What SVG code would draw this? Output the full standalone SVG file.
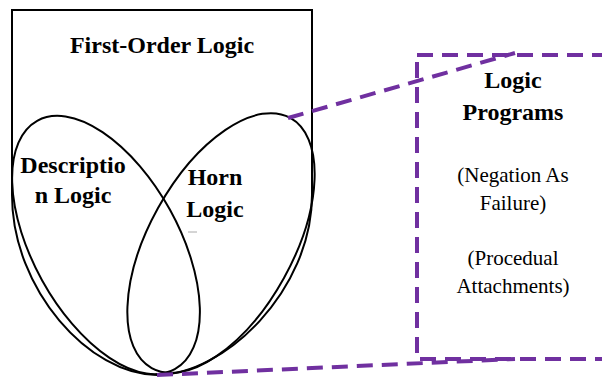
<svg xmlns="http://www.w3.org/2000/svg" width="602" height="377" viewBox="0 0 602 377">
<style>
.ln{fill:none;stroke:#000;stroke-width:2}
.dash{fill:none;stroke:#7030A0;stroke-width:4;stroke-dasharray:16 9}
.b{font-family:"Liberation Serif","Times New Roman",serif;font-weight:bold;font-size:24px;fill:#000;text-anchor:middle}
.r{font-family:"Liberation Serif","Times New Roman",serif;font-size:21px;fill:#000;text-anchor:middle}
</style>
<rect width="602" height="377" fill="#fff"/>
<g id="fol">
<path class="ln" d="M12,195 V10 H312 V195 C312,290 225,375 157,375 C90,375 12,290 12,195 Z"/>
<text class="b" x="162" y="53">First-Order Logic</text>
</g>
<g id="description-logic">
<ellipse class="ln" cx="106" cy="245" rx="73" ry="142" transform="rotate(-29 106 245)"/>
<text class="b" x="73" y="173">Descriptio</text>
<text class="b" x="73" y="203">n Logic</text>
</g>
<g id="horn-logic">
<ellipse class="ln" cx="221" cy="243" rx="72" ry="143" transform="rotate(29 221 243)"/>
<text class="b" x="215" y="185">Horn</text>
<text class="b" x="215" y="217">Logic</text>
<line x1="188" y1="232" x2="197" y2="232" stroke="#aaa" stroke-width="1"/>
</g>
<g id="logic-programs">
<rect class="dash" x="417" y="55" width="220" height="304"/>
<text class="b" x="513" y="88">Logic</text>
<text class="b" x="513" y="120">Programs</text>
<text class="r" x="513" y="182">(Negation As</text>
<text class="r" x="513" y="210">Failure)</text>
<text class="r" x="513" y="265">(Procedual</text>
<text class="r" x="513" y="293">Attachments)</text>
</g>
<g id="connectors">
<line class="dash" x1="288" y1="118" x2="515" y2="53"/>
<line class="dash" x1="157" y1="375" x2="515" y2="359"/>
</g>
</svg>
